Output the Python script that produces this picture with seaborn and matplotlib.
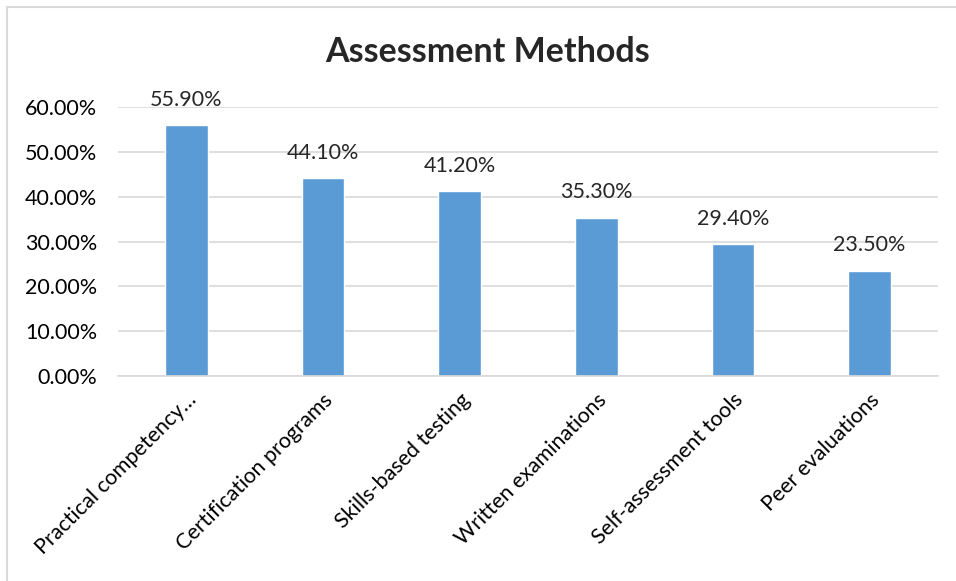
import matplotlib
matplotlib.use('Agg')
import seaborn as sns
import pandas as pd
from matplotlib import pyplot as plt
from matplotlib.lines import Line2D
from matplotlib.ticker import PercentFormatter

# data
methods = ['Practical competency\u2026', 'Certification programs', 'Skills-based testing',
           'Written examinations', 'Self-assessment tools', 'Peer evaluations']
shares = [0.559, 0.441, 0.412, 0.353, 0.294, 0.235]
y_ticks = [0.0, 0.1, 0.2, 0.3, 0.4, 0.5, 0.6]

sns.set_style('white')
plt.rcParams['font.family'] = ['Lato', 'DejaVu Sans']

df = pd.DataFrame({'method': methods, 'share': shares})

fig = plt.figure(figsize=(9.56, 5.81), dpi=100)
ax = fig.add_axes([118/956, 1-376/581, 820/956, (376-107)/581])

sns.barplot(data=df, x='method', y='share', color='#5B9BD5', saturation=1,
            width=0.31, ax=ax)

ax.set_ylim(0, 0.6)
ax.set_yticks(y_ticks)
ax.yaxis.set_major_formatter(PercentFormatter(1.0, decimals=2))
ax.grid(axis='y', color='#d9d9d9', linewidth=1.2)
ax.set_axisbelow(True)
for s in ['top', 'right', 'left']:
    ax.spines[s].set_visible(False)
ax.spines['bottom'].set_color('#d9d9d9')
ax.spines['bottom'].set_linewidth(1.2)
ax.tick_params(axis='both', length=0, labelsize=15.5, colors='black')
ax.tick_params(axis='y', pad=15)
ax.tick_params(axis='x', pad=10)
ax.set_xlabel('')
ax.set_ylabel('')
plt.setp(ax.get_xticklabels(), rotation=45, ha='right', rotation_mode='anchor')

for c in ax.containers:
    ax.bar_label(c, labels=[f'{v*100:.2f}%' for v in shares], padding=11,
                 fontsize=15.5, clip_on=False)

fig.text(488/956, 1-52/581, 'Assessment Methods', ha='center', va='center',
         fontsize=24.5, fontweight='bold')

# chart frame (only top and left edges visible in the crop)
fig.add_artist(Line2D([7/956, 1.0], [1-7/581, 1-7/581], color='#d9d9d9', linewidth=1.5))
fig.add_artist(Line2D([7/956, 7/956], [0, 1-7/581], color='#d9d9d9', linewidth=1.5))

fig.savefig('out.png', dpi=100)
